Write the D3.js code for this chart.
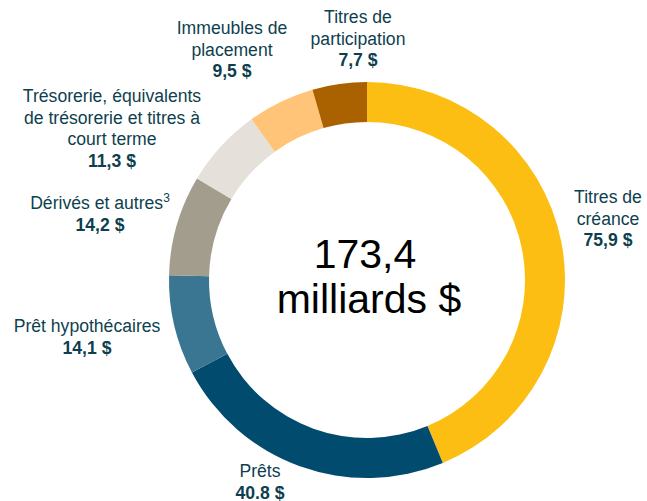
<!DOCTYPE html>
<html>
<head>
<meta charset="utf-8">
<script src="https://cdn.jsdelivr.net/npm/d3@7"></script>
<style>
  body { margin: 0; background: #fff; }
  text { font-family: "Liberation Sans", Arial, sans-serif; }
</style>
</head>
<body>
<div id="chart"></div>
<script>
// data, clockwise from 12 o'clock
var categories = ["Titres de créance", "Prêts", "Prêt hypothécaires", "Dérivés et autres", "Trésorerie, équivalents de trésorerie et titres à court terme", "Immeubles de placement", "Titres de participation"];
var values = [75.9, 40.8, 14.1, 14.2, 11.3, 9.5, 7.7];
var valueLabels = ["75,9 $", "40.8 $", "14,1 $", "14,2 $", "11,3 $", "9,5 $", "7,7 $"];
var colors = ["#FDBE14", "#004B6E", "#3A7591", "#A39D8D", "#E5E1DA", "#FFC477", "#AA6200"];
var totalLabel = ["173,4", "milliards $"];

// label text lines + anchor position of each label block
var labelLines = [
  ["Titres de", "créance"],
  ["Prêts"],
  ["Prêt hypothécaires"],
  ["Dérivés et autres"],
  ["Trésorerie, équivalents", "de trésorerie et titres à", "court terme"],
  ["Immeubles de", "placement"],
  ["Titres de", "participation"]
];
var labelPos = [[608, 203], [260, 477], [87, 332], [100, 209], [112, 102], [232, 34], [358, 23]];

var width = 647, height = 501;
var cx = 367, cy = 280, outerR = 198, innerR = 158;
var lineH = 21.5;
var fs = 17.6;
var textColor = "#0E3F4F";

var svg = d3.select("#chart").append("svg")
    .attr("width", width)
    .attr("height", height);

var pie = d3.pie().sort(null).value(function(d) { return d; });
var arc = d3.arc().innerRadius(innerR).outerRadius(outerR);

var g = svg.append("g").attr("transform", "translate(" + cx + "," + cy + ")");
g.selectAll("path")
    .data(pie(values))
    .enter().append("path")
    .attr("d", arc)
    .attr("fill", function(d, i) { return colors[i]; });

// centre total
svg.append("text")
    .attr("x", cx - 2).attr("y", 268)
    .attr("text-anchor", "middle")
    .attr("font-size", 41)
    .attr("fill", "#000")
    .text(totalLabel[0]);
svg.append("text")
    .attr("x", cx + 2).attr("y", 313)
    .attr("text-anchor", "middle")
    .attr("font-size", 41)
    .attr("fill", "#000")
    .text(totalLabel[1]);

// labels
for (var i = 0; i < categories.length; i++) {
  var lines = labelLines[i];
  var x = labelPos[i][0], y = labelPos[i][1];
  var t = svg.append("text")
      .attr("text-anchor", "middle")
      .attr("font-size", fs)
      .attr("fill", textColor);
  for (var j = 0; j < lines.length; j++) {
    t.append("tspan").attr("x", x).attr("y", y + j * lineH).text(lines[j]);
    if (i == 3) {
      t.append("tspan").attr("dy", -7).attr("font-size", 12).text("3");
    }
  }
  svg.append("text")
      .attr("x", x).attr("y", y + lines.length * lineH)
      .attr("text-anchor", "middle")
      .attr("font-size", fs)
      .attr("font-weight", "bold")
      .attr("fill", textColor)
      .text(valueLabels[i]);
}
</script>
</body>
</html>
